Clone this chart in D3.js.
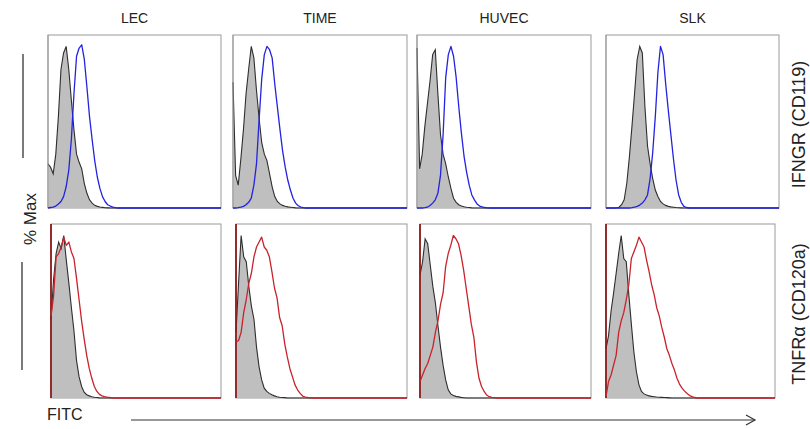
<!DOCTYPE html>
<html>
<head>
<meta charset="utf-8">
<script src="https://cdn.jsdelivr.net/npm/d3@7/dist/d3.min.js"></script>
<style>
  html, body { margin: 0; padding: 0; background: #fff; }
  svg { display: block; }
  text { font-family: "Liberation Sans", Arial, sans-serif; fill: #222; }
</style>
</head>
<body>
<svg id="chart" width="810" height="429"></svg>
<script>
// FITC channel positions (% of the log display range)
const channels = [0, 1.5, 3, 4.5, 6, 7.5, 9, 10.5, 12, 13.5, 15, 16.5, 18, 19.5, 21, 22.5, 24, 25.5,
  27, 28.5, 30, 31.5, 33, 34.5, 36, 37.5, 39, 40.5, 42, 43.5, 45, 46.5, 48, 49.5, 51, 52.5, 54, 100];

const cellLines = ["LEC", "TIME", "HUVEC", "SLK"];
const markers = ["IFNGR (CD119)", "TNFR\u03b1 (CD120a)"];

// Isotype control histograms (% Max), IFNGR row
const isoIfngrLEC   = [27,25,21,33,56,85,95,99,85,66,48,33,28,24,15,9,5,3,1.6,1,0.6,0.4,0.2,0.1,0,0,0,0,0,0,0,0,0,0,0,0,0,0];
const isoIfngrTIME  = [77,20,14,30,48,70,85,99,92,72,55,40,33,29,21,13,7,4,2.5,1.6,1.1,0.7,0.5,0.3,0.1,0,0,0,0,0,0,0,0,0,0,0,0,0];
const isoIfngrHUVEC = [98,24,33,50,64,78,94,97,70,45,33,27,19,12,6,3.5,2,1.2,0.8,0.5,0.3,0.1,0,0,0,0,0,0,0,0,0,0,0,0,0,0,0,0];
const isoIfngrSLK   = [0,0,0,0,0.2,0.5,2,5,15,31,50,70,91,99,95,62,38,27,18,11,7,4,2.5,1.6,1,0.7,0.5,0.3,0.2,0.1,0,0,0,0,0,0,0,0];

// IFNGR stained histograms (% Max)
const ifngrLEC   = [0,0.3,0.6,1.2,2.5,4,7,13,23,42,70,93,98,100,91,74,56,42,29,19,12,7,4,2,1.2,0.6,0.2,0,0,0,0,0,0,0,0,0,0,0];
const ifngrTIME  = [0,0,0.2,0.5,1,2,3.5,6,14,27,54,79,94,99,97,92,76,62,48,35,25,17,11,6,3,1.4,0.6,0.2,0,0,0,0,0,0,0,0,0,0];
const ifngrHUVEC = [0,0,0,0.2,0.5,1.5,3,5,9,20,45,80,94,99,93,80,62,46,32,22,14,8,5,2.5,1.2,0.7,0.3,0.1,0,0,0,0,0,0,0,0,0,0];
const ifngrSLK   = [0,0,0,0,0,0,0,0,0,0,0.2,0.5,1,1.8,3,5,8,18,34,56,83,99,94,76,60,45,30,17,8,3.5,1,0.3,0,0,0,0,0,0];

// Isotype control histograms (% Max), TNFR row
const isoTnfrLEC   = [48,72,88,95,91,99,84,70,55,41,23,13,7,3.5,2,1.3,0.8,0.5,0.3,0.1,0,0,0,0,0,0,0,0,0,0,0,0,0,0,0,0,0,0];
const isoTnfrTIME  = [40,70,99,86,83,68,56,48,31,19,11,6,4,2.8,2,1.3,0.8,0.5,0.3,0.2,0,0,0,0,0,0,0,0,0,0,0,0,0,0,0,0,0,0];
const isoTnfrHUVEC = [75,83,97,94,81,68,58,44,31,20,11,5,2.5,1.5,1,0.7,0.4,0.2,0,0,0,0,0,0,0,0,0,0,0,0,0,0,0,0,0,0,0,0];
const isoTnfrSLK   = [30,38,53,64,76,88,99,85,83,63,45,28,16,8,4,2.5,1.8,1.3,1,0.8,0.6,0.5,0.4,0.3,0.2,0.1,0,0,0,0,0,0,0,0,0,0,0,0];

// TNFR-alpha stained histograms (% Max)
const tnfrLEC   = [50,62,86,88,92,98,93,95,89,85,73,60,47,36,26,18,12,7,4,2.2,1.3,0.8,0.5,0.3,0.1,0,0,0,0,0,0,0,0,0,0,0,0,0];
const tnfrTIME  = [34,35,40,52,60,70,76,86,92,95,98,92,90,86,77,67,61,49,44,33,25,18,13,8,5,2.8,1.2,0.6,0.3,0.1,0,0,0,0,0,0,0,0];
const tnfrHUVEC = [10,14,18,21,26,31,40,47,57,64,80,88,93,99,97,94,87,78,67,56,45,37,22,12,7,4,1.8,0.8,0.4,0.2,0,0,0,0,0,0,0,0];
const tnfrSLK   = [1,10,14,20,26,40,47,52,60,69,85,89,93,98,95,92,84,77,69,63,55,50,43,37,30,26,21,17,12,8.5,6,4.2,2.7,1.5,0.8,0.3,0,0];

const rows = [
  { marker: markers[0], color: "#2323e0", edge: "#999",
    iso: [isoIfngrLEC, isoIfngrTIME, isoIfngrHUVEC, isoIfngrSLK],
    stain: [ifngrLEC, ifngrTIME, ifngrHUVEC, ifngrSLK] },
  { marker: markers[1], color: "#c8232b", edge: "#8e1b1b",
    iso: [isoTnfrLEC, isoTnfrTIME, isoTnfrHUVEC, isoTnfrSLK],
    stain: [tnfrLEC, tnfrTIME, tnfrHUVEC, tnfrSLK] }
];

// panel frames
const rowBox = [{ top: 35, bottom: 208 }, { top: 224, bottom: 398 }];
const colBox = [
  [{ left: 48, right: 221 }, { left: 233, right: 407 }, { left: 417, right: 591 }, { left: 606, right: 779 }],
  [{ left: 51, right: 221 }, { left: 236, right: 407 }, { left: 420, right: 591 }, { left: 606, right: 775 }]
];

const svg = d3.select("#chart");

rows.forEach((row, r) => {
  cellLines.forEach((cell, c) => {
    const box = colBox[r][c], rb = rowBox[r];
    const x = d3.scaleLinear().domain([0, 100]).range([box.left, box.right]);
    const y = d3.scaleLinear().domain([0, 106]).range([rb.bottom, rb.top]);
    const g = svg.append("g");

    g.append("rect")
      .attr("x", box.left).attr("y", rb.top)
      .attr("width", box.right - box.left).attr("height", rb.bottom - rb.top)
      .attr("fill", "#fff").attr("stroke", "#9a9a9a").attr("stroke-width", 1);

    const iso = channels.map((ch, i) => ({ ch, v: row.iso[c][i] }));
    const stain = channels.map((ch, i) => ({ ch, v: row.stain[c][i] }));

    g.append("path").datum(iso)
      .attr("d", d3.area().x(d => x(d.ch)).y0(y(0)).y1(d => y(d.v)))
      .attr("fill", "#bfbfbf");
    g.append("path").datum(iso)
      .attr("d", d3.line().x(d => x(d.ch)).y(d => y(d.v)))
      .attr("fill", "none").attr("stroke", "#2e2e2e").attr("stroke-width", 1.1);

    // left axis of the panel
    g.append("line")
      .attr("x1", box.left).attr("x2", box.left)
      .attr("y1", rb.top).attr("y2", rb.bottom)
      .attr("stroke", row.edge).attr("stroke-width", r === 1 ? 1.8 : 1);

    g.append("path").datum(stain)
      .attr("d", d3.line().x(d => x(d.ch)).y(d => y(d.v)))
      .attr("fill", "none").attr("stroke", row.color).attr("stroke-width", 1.3)
      .attr("stroke-linejoin", "round");

    if (r === 0) {
      g.append("text")
        .attr("x", (box.left + box.right) / 2).attr("y", 23)
        .attr("text-anchor", "middle").attr("font-size", 14)
        .text(cell);
    }
  });

  // marker label on the right
  const rb = rowBox[r];
  svg.append("text")
    .attr("transform", `translate(805,${(rb.top + rb.bottom) / 2 + 3}) rotate(-90)`)
    .attr("text-anchor", "middle").attr("font-size", 18)
    .text(row.marker);
});

// y-axis caption
svg.append("line").attr("x1", 23).attr("x2", 23).attr("y1", 54).attr("y2", 158)
  .attr("stroke", "#333").attr("stroke-width", 1.3);
svg.append("line").attr("x1", 22).attr("x2", 22).attr("y1", 262).attr("y2", 370)
  .attr("stroke", "#333").attr("stroke-width", 1.3);
svg.append("text")
  .attr("transform", "translate(36,219) rotate(-90)")
  .attr("text-anchor", "middle").attr("font-size", 17)
  .text("% Max");

// x-axis caption with arrow
svg.append("text").attr("x", 47).attr("y", 420).attr("font-size", 16).text("FITC");
svg.append("line").attr("x1", 131).attr("x2", 755).attr("y1", 420).attr("y2", 420)
  .attr("stroke", "#333").attr("stroke-width", 1.2);
svg.append("path").attr("d", "M746,415 L755,420 L746,425")
  .attr("fill", "none").attr("stroke", "#333").attr("stroke-width", 1.2);
</script>
</body>
</html>
